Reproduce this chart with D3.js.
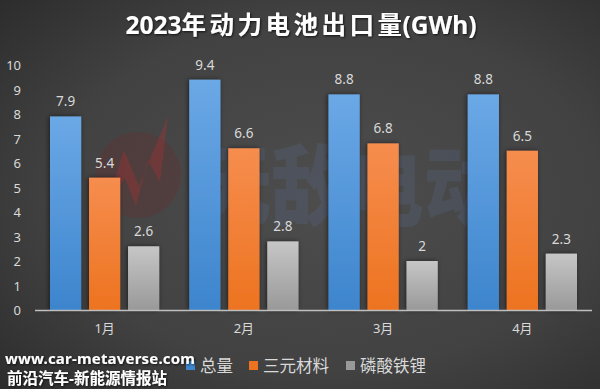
<!DOCTYPE html>
<html><head><meta charset="utf-8">
<script src="https://cdn.jsdelivr.net/npm/d3@7"></script>
<style>html,body{margin:0;padding:0;background:#3a3a3a;}svg{display:block;}</style>
</head><body>
<script>
const categories = ["1月","2月","3月","4月"];
const seriesNames = ["总量","三元材料","磷酸铁锂"];
const total = [7.9, 9.4, 8.8, 8.8];
const ternary = [5.4, 6.6, 6.8, 6.5];
const lfp = [2.6, 2.8, 2, 2.3];
const yTicks = [0,1,2,3,4,5,6,7,8,9,10];
const seriesValues = [total, ternary, lfp];

const W = 600, H = 389;
const FONT = '"Noto Sans","Noto Sans CJK SC",sans-serif';
const svg = d3.select("body").append("svg").attr("width", W).attr("height", H);
const defs = svg.append("defs");

const bg = defs.append("radialGradient").attr("id","bg").attr("cx","55%").attr("cy","50%").attr("r","75%");
bg.append("stop").attr("offset","0%").attr("stop-color","#4d4d4d");
bg.append("stop").attr("offset","60%").attr("stop-color","#424242");
bg.append("stop").attr("offset","100%").attr("stop-color","#2c2c2c");
svg.append("rect").attr("width",W).attr("height",H).attr("fill","url(#bg)");

const grads = [["#6ba8e6","#3d85cd"],["#f68d4e","#ed7320"],["#c6c6c6","#999999"]];
grads.forEach((g,i)=>{
  const lg = defs.append("linearGradient").attr("id","g"+i).attr("x1",0).attr("y1",0).attr("x2",0).attr("y2",1);
  lg.append("stop").attr("offset","0%").attr("stop-color",g[0]);
  lg.append("stop").attr("offset","100%").attr("stop-color",g[1]);
});
const sh = defs.append("filter").attr("id","sh").attr("x","-30%").attr("y","-10%").attr("width","160%").attr("height","120%");
sh.append("feDropShadow").attr("dx",-1).attr("dy",0).attr("stdDeviation",2.5).attr("flood-color","#000").attr("flood-opacity",0.55);
const tsh = defs.append("filter").attr("id","tsh");
tsh.append("feDropShadow").attr("dx",1).attr("dy",1).attr("stdDeviation",1).attr("flood-color","#000").attr("flood-opacity",0.7);

const x0 = d3.scaleBand().domain(categories).range([35, 592]).paddingInner(0).paddingOuter(0);
const x1 = d3.scaleBand().domain(seriesNames).range([15, x0.bandwidth()-15]).paddingInner(0.2).paddingOuter(0);
const y = d3.scaleLinear().domain([0,10]).range([310, 65]);

// watermark (logo + name)
const wm = svg.append("g");
wm.append("circle").attr("cx",138).attr("cy",175).attr("r",43).attr("fill","#6a3030").attr("opacity",0.3);
wm.append("path").attr("d","M104,214 L124,150 L139,186 L168,116 L160,182 L148,160 L136,206 L125,178 Z")
  .attr("fill","#b83030").attr("opacity",0.3);
wm.append("text").attr("x",195).attr("y",218).attr("font-family",'"Noto Sans CJK SC",sans-serif')
  .attr("font-weight",900).attr("font-size",88).attr("textLength",305).attr("lengthAdjust","spacingAndGlyphs")
  .attr("fill","#5a72a0").attr("opacity",0.2).text("无敌电动");

// title
const title = svg.append("text").attr("x",301).attr("y",34).attr("text-anchor","middle")
  .attr("font-family",FONT).attr("font-weight","bold").attr("font-size",24.5).attr("fill","#ffffff")
  .attr("filter","url(#tsh)");
title.append("tspan").text("2023");
title.append("tspan").attr("letter-spacing",3.5).text("年动力电池出口量");
title.append("tspan").attr("dx",-3).text("(GWh)");

// y tick labels
svg.append("g").selectAll("text").data(yTicks).join("text")
  .attr("x",21).attr("y",d=>y(d)+5).attr("text-anchor","end")
  .attr("font-family",FONT).attr("font-size",13).attr("fill","#d9d9d9").text(d=>d);

// bars
const groups = svg.append("g").selectAll("g").data(categories).join("g")
  .attr("transform",c=>`translate(${x0(c)},0)`);
groups.selectAll("rect").data((c,ci)=>seriesNames.map((s,si)=>({s,si,v:seriesValues[si][ci]}))).join("rect")
  .attr("x",d=>x1(d.s)).attr("y",d=>y(d.v)).attr("width",x1.bandwidth()).attr("height",d=>y(0)-y(d.v))
  .attr("fill",d=>`url(#g${d.si})`).attr("filter","url(#sh)");
groups.selectAll("text").data((c,ci)=>seriesNames.map((s,si)=>({s,si,v:seriesValues[si][ci]}))).join("text")
  .attr("x",d=>x1(d.s)+x1.bandwidth()/2).attr("y",d=>y(d.v)-10).attr("text-anchor","middle")
  .attr("font-family",FONT).attr("font-size",13.5).attr("fill","#d9d9d9").text(d=>d.v);

// x axis
svg.append("line").attr("x1",35).attr("x2",592).attr("y1",310.5).attr("y2",310.5)
  .attr("stroke","#bfbfbf").attr("stroke-width",1.5);
svg.append("g").selectAll("text").data(categories).join("text")
  .attr("x",c=>x0(c)+x0.bandwidth()/2).attr("y",333).attr("text-anchor","middle")
  .attr("font-family",FONT).attr("font-size",13).attr("fill","#d9d9d9").text(c=>c);

// legend
const legX = [186, 249, 346];
const leg = svg.append("g").selectAll("g").data(seriesNames).join("g")
  .attr("transform",(d,i)=>`translate(${legX[i]},0)`);
leg.append("rect").attr("x",0).attr("y",361).attr("width",9).attr("height",9)
  .attr("fill",(d,i)=>grads[i][1]);
leg.append("text").attr("x",14).attr("y",372).attr("font-family",FONT).attr("font-size",16.5)
  .attr("fill","#d9d9d9").text(d=>d);

// source text
svg.append("text").attr("x",5).attr("y",364).attr("font-family",FONT).attr("font-weight","bold")
  .attr("font-size",15).attr("textLength",190).attr("fill","#ffffff").attr("filter","url(#tsh)").text("www.car-metaverse.com");
svg.append("text").attr("x",7).attr("y",384).attr("font-family",FONT).attr("font-weight","bold")
  .attr("font-size",15.5).attr("fill","#ffffff").attr("filter","url(#tsh)").text("前沿汽车-新能源情报站");
</script>
</body></html>
